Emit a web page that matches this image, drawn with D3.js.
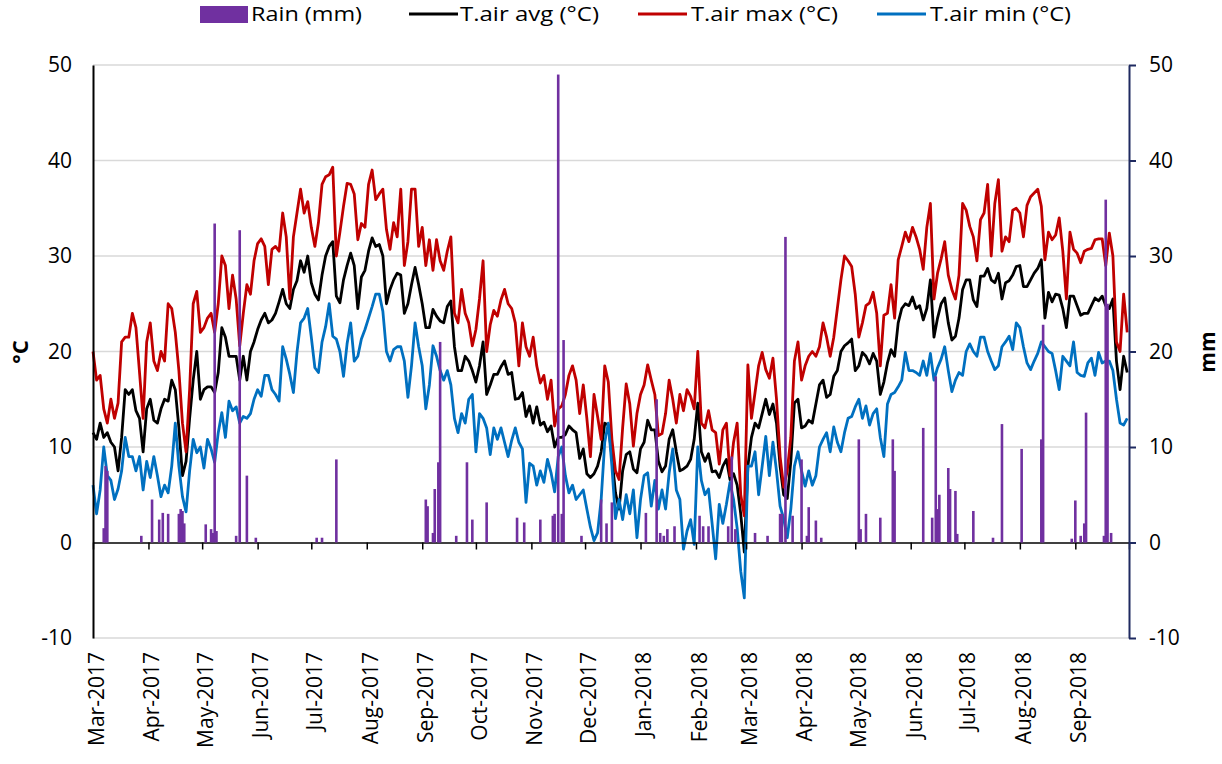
<!DOCTYPE html>
<html>
<head>
<meta charset="utf-8">
<script src="https://cdn.jsdelivr.net/npm/d3@7"></script>
<style>
  html, body { margin: 0; padding: 0; background: #fff; }
  svg { display: block; font-family: "Open Sans", "Liberation Sans", sans-serif; }
</style>
</head>
<body>
<svg id="chart" width="1222" height="764"></svg>
<script>
// ---------- DATA ----------
const startDate = "2017-03-01";   // first day of the record
const endDate = "2018-10-01";     // end of x axis
const stepDays = 2;               // one reading every 2 days

const tAvg = [
  11.5,10.8,12.5,11,11.5,10.5,10,7.5,11,16,15.5,16,13.8,13,9.5,14,15,12.8,12.5,14,15,14.8,17,16,12,7,8.5,13,17,20,15,16,16.3,16.3,15.7,17.8,22.5,21.5,19.5,19.5,19.5,17,19.5,17,20,21,22.3,23.3,24,
  23,23.3,24,25.2,26.5,25,24.5,26.5,27.4,29.5,28.3,30,27.2,26,25.4,28,30,31,31.5,25.8,25.1,27.5,29,30.3,29,24.5,27.8,28.5,30.5,31.9,31,31.2,30,25,26.5,27.5,28.2,28,24,25,27,28.8,27,25,22.5,22.5,24.4,23.7,23.2,
  23,24.7,25.3,20.5,18,18,19.5,19,18,16.8,18.5,21,15.5,16.5,17.6,17.6,18.4,19,17.6,17.8,15,15.1,15.7,13.2,14.3,12.5,14.2,12.3,12.6,11.6,12.2,10,11,11,11.3,12.2,11.8,11.5,8.8,9.8,7.2,6.8,7.2,8,9.5,12.5,12.3,9,
  5.2,3.5,7.5,9.2,9.5,7.7,7.3,9.8,10.5,12.8,11.8,11.8,8.5,7.4,8,10.8,11.8,9.5,7.5,7.7,8,8.7,10.8,14.6,9.5,8.5,9.3,7.4,7.5,6.8,8,8.7,6.6,7.2,6,3,-1,8,11,12.5,12,13.5,15,13.4,14.5,12.5,8,5,4.6,8.5,
  14.6,15,12,12.2,12.8,12.5,14.5,16.5,17,15.2,15.5,17.4,18,20,20.6,20.9,21.3,18,18.5,19.9,19.5,18.7,19.8,19,15.5,16.8,18.8,20.2,19.5,23,24.5,25,24.8,25.7,24.5,24.8,23.3,24.5,27.5,21.5,23.5,25,25.6,23,21.2,21.6,23.5,26.5,27.5,
  27.5,25.4,24.7,27.9,27.9,28.7,27.5,27.2,28.2,25.5,27.2,27.4,28,28.9,29,26.8,26.8,27.5,28.2,28.7,29.6,23.5,26.2,25.2,26,25.9,24.5,22.5,25.8,25.8,24.8,23.8,24,24,24.8,25.6,25.3,25.8,24.8,24.5,25.5,19,16,19.5,17.8
];

const tMax = [
  20,17,17.5,14,12.5,15,13,14.6,21,21.5,21.5,24,22.5,17.8,13,21,23,19,18,20,19,25,24.5,22,18,12.5,9.5,16,25,26.3,22,22.5,23.5,24,22,25,30,29,24.5,28,25.5,20.6,24,27,26,29.5,31.3,31.8,31,
  27,30.7,31,30.5,34.5,32,25.5,32,34.5,37,34.5,35.7,33,31,33.5,37.5,38.3,38.5,39.3,30,32.5,35.2,37.6,37.5,36.5,31.7,33.4,33,37.5,39,35.9,36.5,37,32.8,30.7,33.5,32,37,29,31.5,37,37,31,33,29,31.7,28.5,31.7,29.5,
  28.5,30.5,32,24,23,26.5,24,23,20.6,22.3,25.5,29.5,20,22.8,24.3,23.7,25.4,26.5,25,24.5,23,18.5,23,20.5,19.5,21.5,18.5,16.7,17.5,15,17,12.2,14,14.3,15.5,17.5,18.5,17,13.5,16.5,13,9,15.5,13.2,10.8,18.5,16.8,10.8,
  7.5,6.6,12,16.6,14.5,10.1,13.5,15.5,16.5,18.6,17,15.5,11.2,11.4,13.5,17,15,12.5,15.5,13.8,16,15.3,14,20,12.5,12,13.8,11.8,11.5,8.2,11.8,12.5,7,10.5,12.5,5,2.8,18.6,13,15.7,18.5,19.9,18.1,17.2,19.3,15,9,5.8,7.5,11,
  19,21,17,18.5,19.5,20,19.5,20.5,23,21.5,19.5,21.5,24.5,27.5,30,29.5,28.9,26,21.5,23,24.8,25.1,26.2,24,18.5,23.8,24,27,23.5,29.6,31,32.5,31.5,33,32,30.7,28.6,33,35.5,25.5,28.2,29.7,31.5,28,26.5,25.5,28,35.5,34.8,
  33.1,32,29.5,33.8,34.5,37.5,30,35.5,38,30.5,32,31.5,34.8,35,34.5,32,35.3,36.2,36.6,37,35.2,29.6,32.5,31.7,32.2,34,30.5,25.5,32.5,30.7,30.3,29.3,30.5,30.7,30.8,31.7,31.8,31.8,29,32.4,30,21,20,26,22
];

const tMin = [
  6,3,5.5,10,7,6.5,4.5,5.6,7.5,11,9,9,7.5,9,5.5,8.5,6.8,9,7,4.8,6,5.2,8,12.5,8,4.8,3.2,7.5,10.8,9.4,10,7.8,10.8,9.8,8.4,11.5,13.6,11,14.8,13.8,14.2,12.5,13.2,13,13.5,15,16,15.3,17.5,
  17.5,16,15.5,14.8,20.5,19.2,17.6,15.7,19.9,23,23.5,24.5,21.5,18.3,17.8,21,22.6,25,21.6,21.3,20,17.4,20.8,23,19,19.5,21.3,22.3,23.5,24.7,26,26,24.2,20,19,20.2,20.5,20.5,19,15.2,18.5,23,20.5,18.5,14,16.5,20.6,19.5,18,
  17,18,16.5,13,11.5,13.5,12.5,15,15.5,9.5,13.5,13,12,9.2,12,10.8,12,10.5,9,10.7,12,10.5,9.8,4.2,8.3,8,6,7.5,6.3,8.7,7.3,5.3,9,10,7,5.2,6,4.5,5,5.5,3.5,1.6,0.2,1,4.5,10.5,12.5,8,
  2.5,4.5,2.4,5,3,5.5,0.5,4.5,7,7.3,3.8,6.5,3.5,5.5,3.5,7.3,9.8,5.5,4.5,-0.7,1.2,2.4,-0.2,10,6.5,5,5.6,2,-1.7,4,2,4,6.3,4.5,1.5,-3,-5.8,8,8,9.5,5,8,11.1,7,10.5,7.5,3.8,2.5,0.5,3.5,
  8,9.5,7.5,5.9,7.5,6,7,10,10.8,11.5,9.5,12.1,10.5,9.5,11.5,13,13.2,14.2,15,13,14.3,12.3,13.5,14,11,9,14.5,15.5,15.7,16.3,17,19.9,18,18,17.8,17.5,19,17.5,19.8,17,18.3,19.2,20.5,18,15.8,17,17.8,17.5,20,
  20.8,20,19.5,21.5,21.5,20,19,18.1,18.5,20.5,21,21.6,20.2,23,22.5,20.5,18.8,18.1,19,19.8,21,20.5,20,19.8,18,16,19.5,19,18.5,21,17.8,17.5,17.4,18.8,19.3,17.5,19.9,18.8,19,19,18,15,12.5,12.3,13
];

// rain: day offset from startDate and amount (mm)
const rainDay = [6,7,8,27,33,37,39,42,48,49,50,51,63,66,67,68,69,80,82,86,91,125,128,136,186,187,190,191,193,194,203,209,212,220,237,241,250,257,258,260,262,263,273,284,287,290,309,315,317,319,321,325,339,341,344,355,357,359,370,377,384,385,387,391,396,399,400,404,407,428,429,432,440,447,448,464,469,471,472,473,478,479,482,483,492,503,508,519,530,531,547,549,552,554,555,565,566,567,569];
const rainMm = [1.5,8,7.5,0.7,4.5,2.4,3.1,3,3,3.5,3.3,2,1.9,1.4,1,33.4,1.2,0.7,32.7,7,0.5,0.5,0.5,8.7,4.5,3.8,1,5.6,8.4,21,0.7,8.4,2.4,4.2,2.6,2.1,2.4,2.8,3,49,3,21.2,0.7,4.5,2,4.2,3.1,15,1,0.7,1.4,1.7,2.8,1.7,1.7,1.7,9,1.4,1,0.7,3,3,32,2.8,8.7,0.7,3.7,2.3,0.5,10.8,1.4,3,2.6,10.8,7.5,12,2.6,17.4,3.5,5,7.8,5.6,5.4,0.9,3.3,0.5,12.4,9.8,10.8,22.8,0.4,4.4,0.7,2,13.6,0.7,35.9,25,1];

const yTicks = [-10, 0, 10, 20, 30, 40, 50];
const seriesNames = ["Rain (mm)", "T.air avg (°C)", "T.air max (°C)", "T.air min (°C)"];
const seriesColors = ["#7030A0", "#000000", "#C00000", "#0070C0"];

// ---------- CHART ----------
const parse = d3.timeParse("%Y-%m-%d");
const start = parse(startDate), end = parse(endDate);
const dates = tAvg.map((_, i) => d3.timeDay.offset(start, i * stepDays));

const svg = d3.select("#chart");
svg.append("rect").attr("width", 1222).attr("height", 764).attr("fill", "#fff");

const x = d3.scaleTime().domain([start, end]).range([93, 1129]);
const y = d3.scaleLinear().domain([-10, 50]).range([638, 65]);
const numFmt = d => String(d);   // plain hyphen-minus like the reference

// gridlines
svg.append("g").selectAll("line").data(yTicks.filter(v => v !== 0)).join("line")
  .attr("x1", 93).attr("x2", 1129)
  .attr("y1", d => y(d)).attr("y2", d => y(d))
  .attr("stroke", "#d9d9d9").attr("stroke-width", 1.5);

// temperature lines
const line = d3.line().x((d, i) => x(dates[i])).y(d => y(d));
[[tAvg, seriesColors[1]], [tMax, seriesColors[2]], [tMin, seriesColors[3]]].forEach(([vals, col]) => {
  svg.append("path").datum(vals).attr("d", line)
    .attr("fill", "none").attr("stroke", col)
    .attr("stroke-width", 2.8).attr("stroke-linejoin", "round");
});

// zero axis with month ticks
const months = d3.timeMonth.range(start, end);
svg.append("g").attr("transform", `translate(0,${y(0)})`)
  .call(d3.axisBottom(x).tickValues(months.concat([end])).tickSize(7).tickSizeOuter(0).tickFormat(""))
  .call(g => g.select(".domain").attr("stroke", "#000").attr("stroke-width", 1.6))
  .call(g => g.selectAll(".tick line").attr("stroke", "#000").attr("stroke-width", 1.5));

// rain bars (secondary axis, drawn on top)
const rainDates = rainDay.map(d => d3.timeDay.offset(start, d));
svg.append("g").selectAll("rect").data(rainMm).join("rect")
  .attr("x", (d, i) => x(rainDates[i]) - 1.3)
  .attr("width", 2.6)
  .attr("y", d => y(d))
  .attr("height", d => y(0) - y(d))
  .attr("fill", seriesColors[0]);

// month labels
svg.append("g").attr("transform", "translate(0,645)")
  .call(d3.axisBottom(x).tickValues(months).tickSize(0).tickFormat(d3.timeFormat("%b-%Y")))
  .call(g => g.select(".domain").remove())
  .call(g => g.selectAll("text")
    .attr("transform", "rotate(-90)")
    .attr("x", -7).attr("y", 3).attr("dy", "0.35em")
    .attr("text-anchor", "end")
    .attr("font-size", 21).attr("font-family", "Open Sans, sans-serif").attr("fill", "#000"));

// left axis
svg.append("g").attr("transform", "translate(93,0)")
  .call(d3.axisLeft(y).tickValues(yTicks).tickFormat(numFmt).tickSize(0).tickPadding(21))
  .call(g => g.select(".domain").attr("stroke", "#000").attr("stroke-width", 2))
  .call(g => g.selectAll("text").attr("font-size", 21).attr("font-family", "Open Sans, sans-serif").attr("fill", "#000"));

// right axis
svg.append("g").attr("transform", "translate(1129,0)")
  .call(d3.axisRight(y).tickValues(yTicks).tickFormat(numFmt).tickSize(7).tickSizeOuter(0).tickPadding(13))
  .call(g => g.select(".domain").attr("stroke", "#1F2A60").attr("stroke-width", 2))
  .call(g => g.selectAll(".tick line").attr("stroke", "#1F2A60").attr("stroke-width", 2))
  .call(g => g.selectAll("text").attr("font-size", 21).attr("font-family", "Open Sans, sans-serif").attr("fill", "#000"));

// axis titles
svg.append("text").attr("transform", "translate(20,352) rotate(-90)")
  .attr("text-anchor", "middle").attr("dy", "0.35em")
  .attr("font-size", 22).attr("font-weight", "bold").text("°C");
svg.append("text").attr("transform", "translate(1208,352) rotate(-90)")
  .attr("text-anchor", "middle").attr("dy", "0.35em")
  .attr("font-size", 21).attr("font-weight", "bold").text("mm");

// legend
const leg = svg.append("g").attr("font-size", 20).attr("font-family", "Open Sans, sans-serif");
const legItems = [
  {sx: 200, tx: 251, tw: 111},
  {sx: 409, tx: 460, tw: 139},
  {sx: 638, tx: 691, tw: 147},
  {sx: 877, tx: 930, tw: 141}
];
legItems.forEach((it, i) => {
  if (i === 0) {
    leg.append("rect").attr("x", it.sx).attr("y", 6).attr("width", 48).attr("height", 17).attr("fill", seriesColors[0]);
  } else {
    leg.append("line").attr("x1", it.sx).attr("x2", it.sx + 49).attr("y1", 14).attr("y2", 14)
      .attr("stroke", seriesColors[i]).attr("stroke-width", 3.2);
  }
  leg.append("text").attr("x", it.tx).attr("y", 14).attr("dy", "0.35em")
    .attr("textLength", it.tw).attr("lengthAdjust", "spacingAndGlyphs")
    .text(seriesNames[i]);
});
</script>
</body>
</html>
